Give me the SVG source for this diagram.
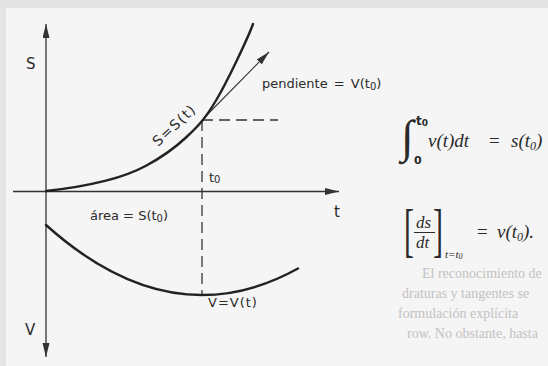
<svg xmlns="http://www.w3.org/2000/svg" width="548" height="366" viewBox="0 0 548 366">
  <style>
    .axis { stroke: #333; stroke-width: 1.3; fill: none; }
    .curve { stroke: #222; stroke-width: 2.4; fill: none; stroke-linecap: round; }
    .dash { stroke: #333; stroke-width: 1.3; fill: none; stroke-dasharray: 11 6; }
    .thin { stroke: #333; stroke-width: 1.1; fill: none; }
    .lbl { font-family: "DejaVu Sans", "Liberation Sans", sans-serif; fill: #2a2a2a; }
    .m { font-family: "Liberation Serif", "DejaVu Serif", serif; font-style: italic; fill: #2a2a2a; }
    .mu { font-family: "Liberation Serif", "DejaVu Serif", serif; fill: #2a2a2a; }
    .bleed { font-family: "Liberation Serif", serif; fill: #c2c2c2; }
  </style>
  <defs>
    <marker id="ah" markerUnits="userSpaceOnUse" markerWidth="16" markerHeight="8" refX="14" refY="3.5" orient="auto">
      <path d="M0,0 L14,3.5 L0,7 Z" fill="#333"/>
    </marker>
  </defs>

  <rect x="0" y="0" width="548" height="366" fill="#e4e4e4"/>
  <rect x="6" y="8" width="542" height="358" fill="#f5f5f5"/>

  <g id="bleed-through" font-size="14">
    <text class="bleed" x="422" y="278">El reconocimiento de</text>
    <text class="bleed" x="402" y="298">draturas y tangentes se</text>
    <text class="bleed" x="398" y="318">formulación explícita</text>
    <text class="bleed" x="407" y="338">row. No obstante, hasta</text>
  </g>

  <g id="axes">
    <line class="axis" x1="46" y1="191.5" x2="46" y2="24" marker-end="url(#ah)"/>
    <line class="axis" x1="46" y1="191.5" x2="46" y2="357" marker-end="url(#ah)"/>
    <line class="axis" x1="13" y1="191.5" x2="339" y2="191.5" marker-end="url(#ah)"/>
  </g>

  <g id="guides">
    <line class="dash" x1="202" y1="120" x2="278" y2="120"/>
    <line class="dash" x1="202" y1="120" x2="202" y2="295"/>
    <line class="thin" x1="204" y1="118" x2="269" y2="52" marker-end="url(#ah)"/>
  </g>

  <g id="curve-s">
    <path class="curve" d="M46,191 C66,189 89.3,184.9 106,180.7 C122.7,176.5 132.7,173 146,165.8 C159.3,158.6 174.3,148.4 186,137.5 C197.7,126.6 204.8,119.4 216,100.5 C227.2,81.6 248,38 253,24"/>
    <text class="lbl" style="font-size:14px" letter-spacing="1.3" transform="translate(158,147) rotate(-43)">S=S(t)</text>
  </g>

  <g id="curve-v">
    <path class="curve" d="M46,225 Q172,338.2 298,268.5"/>
    <text class="lbl" style="font-size:13px" x="208" y="307" letter-spacing="1">V=V(t)</text>
  </g>

  <g id="labels">
    <text class="lbl" style="font-size:15px" x="26" y="69">S</text>
    <text class="lbl" style="font-size:15px" x="25" y="335">V</text>
    <text class="lbl" style="font-size:15px" x="334" y="217">t</text>
    <text class="lbl" style="font-size:13px" x="209" y="182">t<tspan style="font-size:10px" dy="1">0</tspan></text>
    <text class="lbl" style="font-size:13px" x="262" y="88" word-spacing="2">pendiente = V(t<tspan style="font-size:10px" dy="2">0</tspan><tspan dy="-2">)</tspan></text>
    <text class="lbl" style="font-size:13px" x="90" y="220">área = S(t<tspan style="font-size:10px" dy="2">0</tspan><tspan dy="-2">)</tspan></text>
  </g>

  <g id="formula-integral">
    <text class="mu" style="font-size:46px" x="401" y="152">∫</text>
    <text class="lbl" style="font-size:12px;font-weight:bold" x="416" y="125">t<tspan style="font-size:9px" dy="1">0</tspan></text>
    <text class="lbl" style="font-size:11px;font-weight:bold" x="414" y="164">0</text>
    <text class="m" style="font-size:19px" x="428" y="147">v(t)dt</text>
    <text class="mu" style="font-size:19px" x="489" y="147">=</text>
    <text class="m" style="font-size:19px" x="511" y="147">s(t<tspan style="font-size:12px" dy="3">0</tspan><tspan dy="-3">)</tspan></text>
  </g>

  <g id="formula-derivative">
    <text class="mu" style="font-size:60px" transform="translate(404,250) scale(0.5,1)">[</text>
    <text class="mu" style="font-size:60px" transform="translate(433,250) scale(0.5,1)">]</text>
    <text class="m" style="font-size:17px" x="416" y="228">ds</text>
    <line x1="414" y1="232.5" x2="435" y2="232.5" stroke="#2a2a2a" stroke-width="1"/>
    <text class="m" style="font-size:17px" x="416" y="248">dt</text>
    <text class="m" style="font-size:11px" x="445" y="258">t=t<tspan style="font-size:8px" dy="1">0</tspan></text>
    <text class="mu" style="font-size:19px" x="477" y="238">=</text>
    <text class="m" style="font-size:19px" x="497" y="238">v(t<tspan style="font-size:12px" dy="3">0</tspan><tspan dy="-3">).</tspan></text>
  </g>
</svg>
